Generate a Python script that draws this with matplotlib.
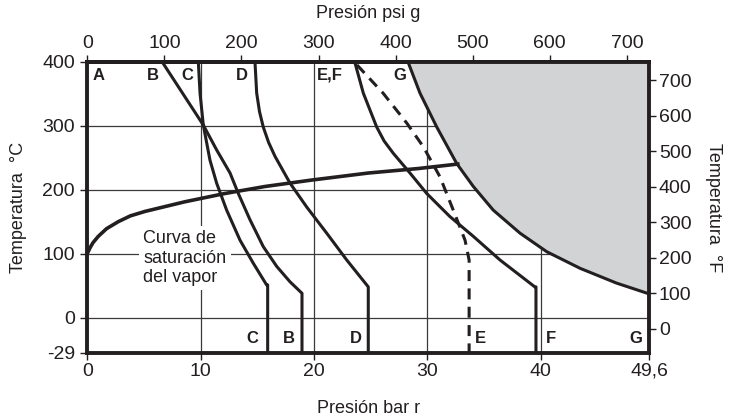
import numpy as np
import matplotlib
matplotlib.use("Agg")
import matplotlib.pyplot as plt

plt.rcParams["font.family"] = ["Liberation Sans", "DejaVu Sans"]

INK = "#231f20"
GREY = "#d1d3d4"

# ---- data (pressure in bar r, temperature in °C) ----
b_bar = [6.6, 10.24, 11.42, 12.6, 13.33, 14.36, 15.53, 16.72, 17.89, 18.95, 18.95]
b_temp = [400, 301, 262, 226, 194, 153, 111, 80, 56, 38, -29]

c_bar = [9.8, 9.95, 10.24, 10.83, 11.42, 12.3, 13.48, 14.65, 15.83, 15.92, 15.92]
c_temp = [400, 351, 301, 246, 210, 168, 121, 85, 51, 51, -29]

d_bar = [14.8, 14.95, 15.2, 15.53, 16.0, 16.57, 17.9, 19.36, 21.13, 22.9, 24.8, 24.8]
d_temp = [400, 351, 322, 298, 274, 252, 210, 173, 132, 90, 48, -29]

f_bar = [23.6, 24.36, 25.54, 26.2, 27.0, 28.48, 29.96, 32.0, 34.07, 36.43, 39.5, 39.6, 39.6]
f_temp = [400, 351, 298, 276, 257, 226, 194, 158, 127, 90, 48, 48, -29]

e_bar = [23.8, 26.1, 28.2, 29.66, 31.13, 32.3, 33.34, 33.7, 33.7]
e_temp = [395, 351, 304, 267, 220, 168, 121, 90, -29]

g_bar = [28.3, 29.36, 30.84, 32.6, 34.07, 35.83, 38.19, 40.55, 43.5, 46.7, 49.6]
g_temp = [400, 351, 298, 241, 205, 168, 132, 103, 77, 54, 37]

sat_bar = [0, 0.24, 0.5, 0.97, 1.7, 2.74, 3.8, 5.1, 8.6, 12.15, 15.7, 19.8, 24.8, 29.2, 32.7]
sat_temp = [100, 109, 117, 127, 139, 150, 159, 166, 181, 194, 205, 215, 226, 233, 240]

bar_ticks = [0, 10, 20, 30, 40, 49.6]
bar_labels = ["0", "10", "20", "30", "40", "49,6"]
c_ticks = [400, 300, 200, 100, 0, -29]
f_ticks = [0, 100, 200, 300, 400, 500, 600, 700]
psi_ticks = [0, 100, 200, 300, 400, 500, 600, 700]

top_letters = ["A", "B", "C", "D", "E,F", "G"]
top_letter_bar = [1.0, 5.8, 8.8, 13.6, 21.4, 27.6]
bottom_letters = ["C", "B", "D", "E", "F", "G"]
bottom_letter_bar = [14.6, 17.8, 23.7, 34.7, 40.9, 48.4]

X_MAX = 49.6
T_MIN, T_MAX = -29, 400
# the band below 0 °C is stretched in the original drawing
STRETCH = 55 / 29


def fwd(t):
    t = np.asarray(t, dtype=float)
    return np.where(t < 0, t * STRETCH, t)


def inv(t):
    t = np.asarray(t, dtype=float)
    return np.where(t < 0, t / STRETCH, t)


def c_to_f(c):
    return np.asarray(c) * 1.8 + 32


fig = plt.figure(figsize=(7.31, 4.17), dpi=100)
ax = fig.add_axes([0.1194, 0.154, 0.7688, 0.698])

ax.set_yscale("function", functions=(fwd, inv))
ax.set_xlim(0, X_MAX)
ax.set_ylim(T_MIN, T_MAX)

# grid
for x in bar_ticks[1:-1]:
    ax.axvline(x, color="#3a3a3a", lw=0.9, zorder=0.5)
for y in c_ticks[1:-1]:
    ax.axhline(y, color="#3a3a3a", lw=0.9, zorder=0.5)

# shaded region to the right of curve G
ax.fill_betweenx(g_temp, g_bar, X_MAX, color=GREY, lw=0, zorder=1)

curve_kw = dict(color=INK, lw=2.2, zorder=3, solid_joinstyle="round")
ax.plot(b_bar, b_temp, **curve_kw)
ax.plot(c_bar, c_temp, **curve_kw)
ax.plot(d_bar, d_temp, **curve_kw)
ax.plot(f_bar, f_temp, **curve_kw)
ax.plot(g_bar, g_temp, **curve_kw)
ax.plot(e_bar, e_temp, color=INK, lw=2.2, zorder=3, dashes=(3.6, 2.4))
ax.plot(sat_bar, sat_temp, color=INK, lw=2.6, zorder=3,
        solid_joinstyle="round")

ax.text(4.95, 93, "Curva de\nsaturación\ndel vapor", fontsize=13, color=INK,
        va="center", ha="left", linespacing=1.2, zorder=2,
        bbox=dict(facecolor="white", edgecolor="none", pad=3))

tr = ax.get_xaxis_transform()
for lab, x in zip(top_letters, top_letter_bar):
    ax.text(x, 0.954, lab, transform=tr, fontsize=12, fontweight="bold",
            color=INK, ha="center", va="center", zorder=4)
for lab, x in zip(bottom_letters, bottom_letter_bar):
    ax.text(x, 0.05, lab, transform=tr, fontsize=12, fontweight="bold",
            color=INK, ha="center", va="center", zorder=4)

# axes styling
for s in ax.spines.values():
    s.set_linewidth(2.8)
    s.set_color(INK)
    s.set_zorder(5)

ax.set_xticks(bar_ticks)
ax.set_xticklabels(bar_labels)
ax.set_yticks(c_ticks)
ax.set_yticklabels([str(t) for t in c_ticks])
ax.tick_params(axis="both", direction="out", length=5, width=1, color=INK,
               labelsize=14, labelcolor=INK, pad=2)
ax.tick_params(axis="y", pad=4)
ax.set_xlabel("Presión bar r", fontsize=13, color=INK, labelpad=15)
ax.set_ylabel("Temperatura  °C", fontsize=13, color=INK, labelpad=11)

# top axis: psi g
top = ax.secondary_xaxis("top", functions=(lambda b: b * 14.7, lambda p: p / 14.7))
top.set_xticks(psi_ticks)
top.tick_params(direction="out", length=5, width=1, color=INK,
                labelsize=14, labelcolor=INK, pad=2)
top.spines["top"].set_linewidth(2.8)
top.set_xlabel("Presión psi g", fontsize=13, color=INK, labelpad=12)

# right axis: °F, linear over the stretched drawing
right = ax.twinx()
right.set_ylim(c_to_f(fwd(T_MIN)), c_to_f(T_MAX))
right.set_yticks(f_ticks)
right.tick_params(direction="out", length=5, width=1, color=INK,
                  labelsize=14, labelcolor=INK, pad=2)
for s in right.spines.values():
    s.set_visible(False)
right.set_ylabel("Temperatura  °F", fontsize=13, color=INK, rotation=270,
                 labelpad=22)

fig.savefig("out.png", dpi=100)
